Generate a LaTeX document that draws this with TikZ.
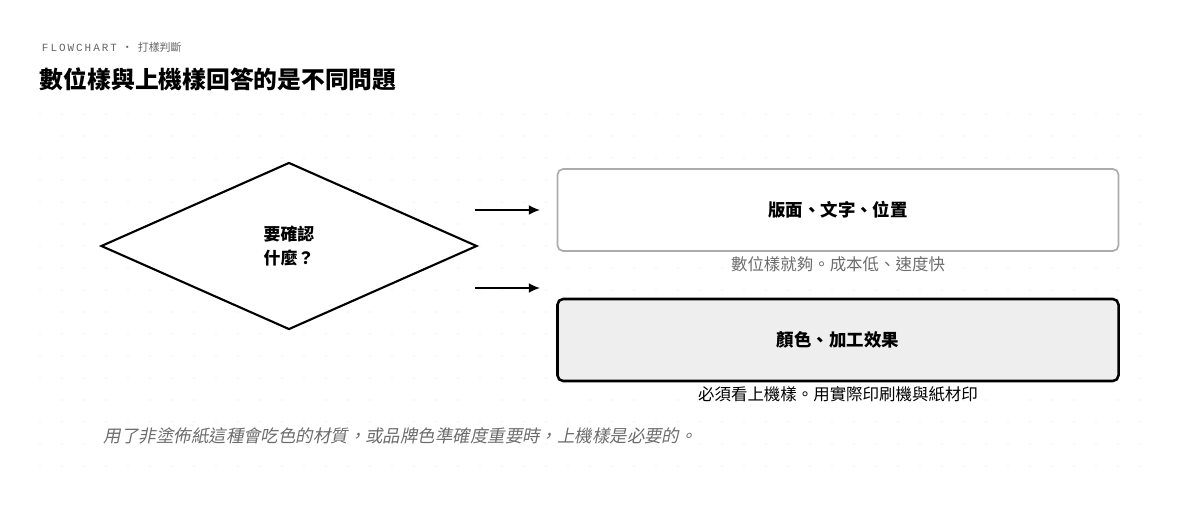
\documentclass[tikz,border=0pt]{standalone}
\usepackage{fontspec}
\setmainfont{Noto Sans CJK TC}
\newfontfamily\cjk{Noto Sans CJK TC}
\newfontfamily\cjkslant[FakeSlant=0.2]{Noto Sans CJK TC}
\newfontfamily\headfont[LetterSpace=18]{Liberation Mono}
\usetikzlibrary{positioning, shapes.geometric, arrows.meta}

\begin{document}
\begin{tikzpicture}[
    x=0.025cm, y=-0.025cm,
    decision/.style={diamond, draw, line width=1.5pt, fill=white, minimum width=376*0.025cm, minimum height=167*0.025cm, aspect=2.25, inner sep=0pt, font=\cjk\bfseries\fontsize{12}{17}\selectfont},
    choice/.style={rectangle, rounded corners=4pt, draw, minimum width=561*0.025cm, minimum height=82*0.025cm, font=\cjk\bfseries\fontsize{12.4}{14}\selectfont},
    caption/.style={font=\cjk\fontsize{11.7}{13}\selectfont},
    line/.style={draw, line width=1pt, -{Latex[length=8pt,width=7pt]}},
    every node/.style={align=center}
]
\useasboundingbox (0,0) rectangle (1200,526);

% Background dots
\foreach \i in {0,...,50}
  \foreach \j in {0,...,16}
    \fill[gray!12] (40+22*\i, 114+22*\j) circle (0.6pt);

% Header
\node[anchor=west, text=gray!80!black, font=\fontsize{7.8}{9}\selectfont] (kicker) at (37,47) {{\headfont FLOWCHART}\ \ ·\ \ 打樣判斷};
\node[anchor=west, font=\bfseries\fontsize{16.9}{19}\selectfont] (title) at (35,79) {數位樣與上機樣回答的是不同問題};

% Nodes
\node[decision] (ask) at (289,246) {要確認\\什麼？};
\node[choice, draw=gray!65, line width=1.2pt, fill=white] (digital) at (838,210) {版面、文字、位置};
\node[choice, line width=1.8pt, fill=gray!13] (press) at (838,340) {顏色、加工效果};

% Captions
\node[caption, text=gray!85!black] (digital_note) at (838,264) {數位樣就夠。成本低、速度快};
\node[caption] (press_note) at (838,394) {必須看上機樣。用實際印刷機與紙材印};

% Arrows
\coordinate (a1s) at (475,210);
\coordinate (a1e) at (540,210);
\coordinate (a2s) at (475,288);
\coordinate (a2e) at (540,288);
\draw[line] (a1s) -- (a1e);
\draw[line] (a2s) -- (a2e);

% Footnote
\node[anchor=west, text=gray!85!black, font=\cjkslant\fontsize{12.4}{14}\selectfont] (note) at (99,436) {用了非塗佈紙這種會吃色的材質，或品牌色準確度重要時，上機樣是必要的。};

\end{tikzpicture}
\end{document}
